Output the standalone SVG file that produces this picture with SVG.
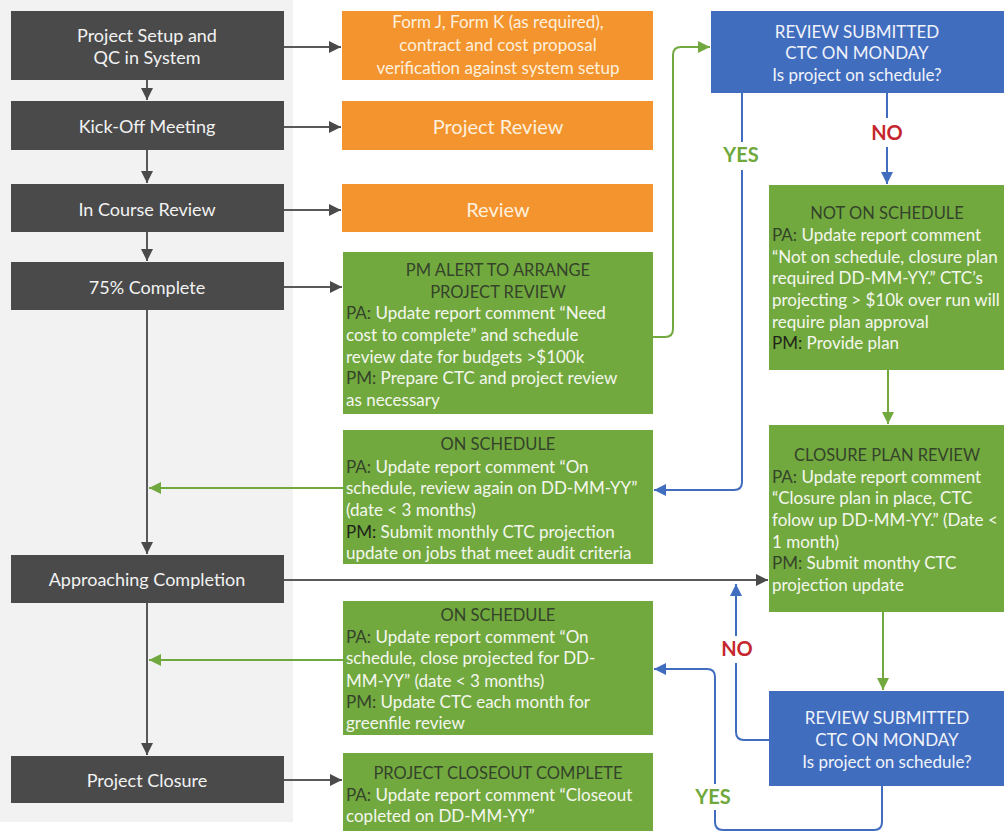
<svg xmlns="http://www.w3.org/2000/svg" width="1004" height="834" viewBox="0 0 1004 834">
<defs>
<style>
text{font-family:Lato,"Liberation Sans",sans-serif}
.dk{fill:#4a4a4a}
.or{fill:#f4942f}
.gr{fill:#72a93f}
.bl{fill:#416dbf}
.td{font-size:18px;fill:#f2f2f2;text-anchor:middle}
.to{font-size:17px;fill:#fdf0de;text-anchor:middle}
.toL{font-size:20px;fill:#fdf0de;text-anchor:middle}
.tb{font-size:17px;fill:#f0f3fa;text-anchor:middle}
.tg{font-size:17px;fill:#f4f7ee}
.hg{font-size:16.5px;fill:#34432a;text-anchor:middle}
.lb{fill:#34432a}
.lk{fill:#1e2418}
.yes{font-size:20px;font-weight:bold;fill:#6fa83c;text-anchor:middle}
.no{font-size:20px;font-weight:bold;fill:#c4262e;text-anchor:middle}
.cd{fill:none;stroke:#595959;stroke-width:2}
.cg{fill:none;stroke:#72a93f;stroke-width:2}
.cb{fill:none;stroke:#416dbf;stroke-width:2}
</style>
<marker id="ad" viewBox="0 0 10 10" refX="10" refY="5" markerWidth="12" markerHeight="12" markerUnits="userSpaceOnUse" orient="auto"><path d="M0,0 L10,5 L0,10 z" fill="#4a4a4a"/></marker>
<marker id="ag" viewBox="0 0 10 10" refX="10" refY="5" markerWidth="12" markerHeight="12" markerUnits="userSpaceOnUse" orient="auto"><path d="M0,0 L10,5 L0,10 z" fill="#72a93f"/></marker>
<marker id="ab" viewBox="0 0 10 10" refX="10" refY="5" markerWidth="12" markerHeight="12" markerUnits="userSpaceOnUse" orient="auto"><path d="M0,0 L10,5 L0,10 z" fill="#416dbf"/></marker>
</defs>
<rect x="0" y="0" width="1004" height="834" fill="#ffffff"/>
<rect x="0" y="0" width="293" height="822" fill="#f2f2f2"/>

<g id="connectors">
<path class="cd" d="M147,80 V100" marker-end="url(#ad)"/>
<path class="cd" d="M147,150 V183" marker-end="url(#ad)"/>
<path class="cd" d="M147,232 V261" marker-end="url(#ad)"/>
<path class="cd" d="M147,310 V554" marker-end="url(#ad)"/>
<path class="cd" d="M147,603 V755" marker-end="url(#ad)"/>
<path class="cd" d="M284,47 H341" marker-end="url(#ad)"/>
<path class="cd" d="M284,127 H341" marker-end="url(#ad)"/>
<path class="cd" d="M284,210 H341" marker-end="url(#ad)"/>
<path class="cd" d="M284,287 H342" marker-end="url(#ad)"/>
<path class="cd" d="M284,580 H768" marker-end="url(#ad)"/>
<path class="cd" d="M284,780 H342" marker-end="url(#ad)"/>
<path class="cg" d="M343,488 H149" marker-end="url(#ag)"/>
<path class="cg" d="M343,660 H149" marker-end="url(#ag)"/>
<path class="cg" d="M653,337 H665 Q673,337 673,329 V55 Q673,47 681,47 H710" marker-end="url(#ag)"/>
<path class="cg" d="M888,370 V424" marker-end="url(#ag)"/>
<path class="cg" d="M883,612 V690" marker-end="url(#ag)"/>
<path class="cb" d="M742,93 V142"/>
<path class="cb" d="M742,170 V482 Q742,490 734,490 H654" marker-end="url(#ab)"/>
<path class="cb" d="M887,93 V118"/>
<path class="cb" d="M887,147 V184" marker-end="url(#ab)"/>
<path class="cb" d="M769,740 H744 Q736,740 736,732 V663"/>
<path class="cb" d="M736,636 V584" marker-end="url(#ab)"/>
<path class="cb" d="M882,786 V822 Q882,830 874,830 H723 Q715,830 715,822 V810"/>
<path class="cb" d="M715,784 V677 Q715,669 707,669 H654" marker-end="url(#ab)"/>
<text class="yes" x="741" y="162">YES</text>
<text class="no" x="887" y="140">NO</text>
<text class="no" x="737" y="656">NO</text>
<text class="yes" x="713" y="804">YES</text>
</g>

<g id="n-setup"><rect class="dk" x="11" y="11" width="273" height="69"/><text class="td" x="147" y="42">Project Setup and</text><text class="td" x="147" y="64">QC in System</text></g>
<g id="n-kickoff"><rect class="dk" x="11" y="101" width="273" height="49"/><text class="td" x="147" y="133">Kick-Off Meeting</text></g>
<g id="n-incourse"><rect class="dk" x="11" y="184" width="273" height="48"/><text class="td" x="147" y="216">In Course Review</text></g>
<g id="n-75"><rect class="dk" x="11" y="262" width="273" height="48"/><text class="td" x="147" y="294">75% Complete</text></g>
<g id="n-approach"><rect class="dk" x="11" y="555" width="273" height="48"/><text class="td" x="147" y="586">Approaching Completion</text></g>
<g id="n-closure"><rect class="dk" x="11" y="756" width="273" height="47"/><text class="td" x="147" y="787">Project Closure</text></g>

<g id="n-forms"><rect class="or" x="342" y="11" width="311" height="69"/>
<text class="to" x="498" y="28">Form J, Form K (as required),</text>
<text class="to" x="498" y="51">contract and cost proposal</text>
<text class="to" x="498" y="74">verification against system setup</text></g>
<g id="n-projreview"><rect class="or" x="342" y="101" width="311" height="49"/><text class="toL" x="498" y="134">Project Review</text></g>
<g id="n-review"><rect class="or" x="342" y="184" width="311" height="48"/><text class="toL" x="498" y="217">Review</text></g>

<g id="n-pmalert"><rect class="gr" x="343" y="252" width="310" height="162"/>
<text class="hg" x="498" y="276">PM ALERT TO ARRANGE</text>
<text class="hg" x="498" y="298">PROJECT REVIEW</text>
<text class="tg" x="346" y="319"><tspan class="lb">PA:</tspan> Update report comment “Need</text>
<text class="tg" x="346" y="341">cost to complete” and schedule</text>
<text class="tg" x="346" y="363">review date for budgets &gt;$100k</text>
<text class="tg" x="346" y="384"><tspan class="lb">PM:</tspan> Prepare CTC and project review</text>
<text class="tg" x="346" y="406">as necessary</text></g>

<g id="n-onsched1"><rect class="gr" x="343" y="430" width="310" height="134"/>
<text class="hg" x="498" y="450">ON SCHEDULE</text>
<text class="tg" x="346" y="473"><tspan class="lb">PA:</tspan> Update report comment “On</text>
<text class="tg" x="346" y="494">schedule, review again on DD-MM-YY”</text>
<text class="tg" x="346" y="516">(date &lt; 3 months)</text>
<text class="tg" x="346" y="538"><tspan class="lk">PM:</tspan> Submit monthly CTC projection</text>
<text class="tg" x="346" y="559">update on jobs that meet audit criteria</text></g>

<g id="n-onsched2"><rect class="gr" x="343" y="601" width="310" height="134"/>
<text class="hg" x="498" y="621">ON SCHEDULE</text>
<text class="tg" x="346" y="643"><tspan class="lb">PA:</tspan> Update report comment “On</text>
<text class="tg" x="346" y="664">schedule, close projected for DD-</text>
<text class="tg" x="346" y="687">MM-YY” (date &lt; 3 months)</text>
<text class="tg" x="346" y="708"><tspan class="lb">PM:</tspan> Update CTC each month for</text>
<text class="tg" x="346" y="729">greenfile review</text></g>

<g id="n-closeout"><rect class="gr" x="343" y="753" width="310" height="78"/>
<text class="hg" x="498" y="779">PROJECT CLOSEOUT COMPLETE</text>
<text class="tg" x="346" y="801"><tspan class="lb">PA:</tspan> Update report comment “Closeout</text>
<text class="tg" x="346" y="822">copleted on DD-MM-YY”</text></g>

<g id="n-review1"><rect class="bl" x="711" y="11" width="293" height="82"/>
<text class="tb" x="857" y="38">REVIEW SUBMITTED</text>
<text class="tb" x="857" y="59">CTC ON MONDAY</text>
<text class="tb" x="857" y="81">Is project on schedule?</text></g>

<g id="n-notonsched"><rect class="gr" x="769" y="185" width="235" height="185"/>
<text class="hg" x="887" y="219">NOT ON SCHEDULE</text>
<text class="tg" x="772" y="241"><tspan class="lb">PA:</tspan> Update report comment</text>
<text class="tg" x="772" y="263">“Not on schedule, closure plan</text>
<text class="tg" x="772" y="284">required DD-MM-YY.” CTC’s</text>
<text class="tg" x="772" y="306">projecting &gt; $10k over run will</text>
<text class="tg" x="772" y="328">require plan approval</text>
<text class="tg" x="772" y="349"><tspan class="lk">PM:</tspan> Provide plan</text></g>

<g id="n-closureplan"><rect class="gr" x="769" y="425" width="235" height="187"/>
<text class="hg" x="887" y="461">CLOSURE PLAN REVIEW</text>
<text class="tg" x="772" y="483"><tspan class="lb">PA:</tspan> Update report comment</text>
<text class="tg" x="772" y="504">“Closure plan in place, CTC</text>
<text class="tg" x="772" y="526">folow up DD-MM-YY.” (Date &lt;</text>
<text class="tg" x="772" y="548">1 month)</text>
<text class="tg" x="772" y="569"><tspan class="lb">PM:</tspan> Submit monthy CTC</text>
<text class="tg" x="772" y="591">projection update</text></g>

<g id="n-review2"><rect class="bl" x="769" y="691" width="235" height="95"/>
<text class="tb" x="887" y="724">REVIEW SUBMITTED</text>
<text class="tb" x="887" y="746">CTC ON MONDAY</text>
<text class="tb" x="887" y="768">Is project on schedule?</text></g>
</svg>
